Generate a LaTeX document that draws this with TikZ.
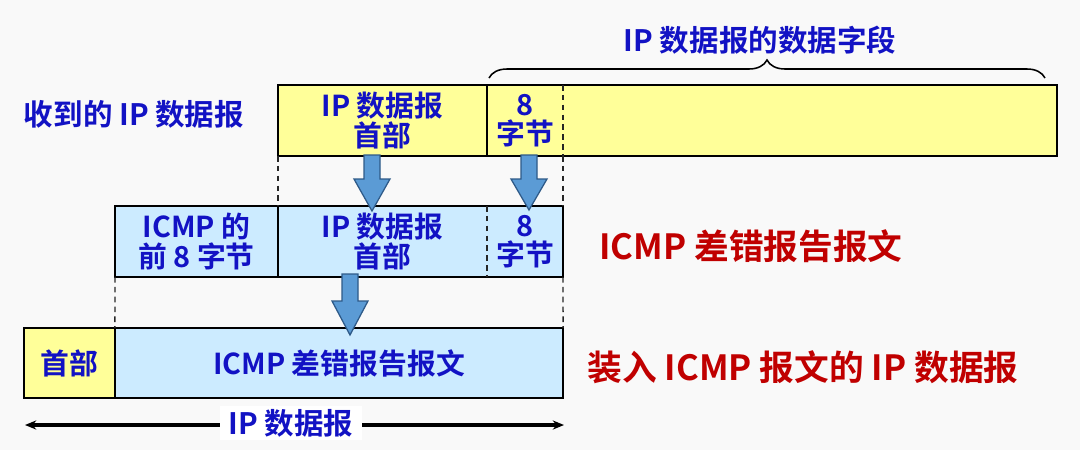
\documentclass[tikz,border=0pt]{standalone}
\usepackage{fontspec}
\setmainfont{Noto Sans CJK SC}[BoldFont={Noto Sans CJK SC Bold}]
\usetikzlibrary{decorations.pathreplacing,arrows.meta}
\definecolor{txtblue}{HTML}{1212C4}
\definecolor{txtred}{HTML}{C00000}
\definecolor{yel}{HTML}{FFFF99}
\definecolor{lblue}{HTML}{CCEBFF}
\definecolor{arrfill}{HTML}{5B9BD5}
\definecolor{arrline}{HTML}{2E5A88}
\definecolor{bg}{HTML}{F9F9F9}
\newcommand{\blockarr}[4]{%
  \filldraw[barrow] (#1-8,#2) -- (#1+8,#2) -- (#1+8,#3) -- (#1+18,#3) -- (#1,#4) -- (#1-18,#3) -- (#1-8,#3) -- cycle;}
\begin{document}
\begin{tikzpicture}[x=0.025cm,y=-0.025cm,
  cell/.style={inner sep=0pt, outer sep=0pt, align=center, text=txtblue,
    font=\fontsize{20.5pt}{21pt}\selectfont\bfseries},
  boxline/.style={draw=black, line width=1.3pt},
  dashline/.style={draw=black!85, line width=1pt, dash pattern=on 4pt off 3pt},
  barrow/.style={fill=arrfill, draw=arrline, line width=0.9pt, line join=miter},
  bluelbl/.style={text=txtblue, font=\fontsize{21pt}{25pt}\selectfont\bfseries, inner sep=1pt},
  redlbl/.style={text=txtred, font=\fontsize{24.7pt}{29pt}\selectfont\bfseries, inner sep=1pt}]
\fill[bg] (0,0) rectangle (1080,450);
\useasboundingbox (0,0) rectangle (1080,450);

% top row
\node[cell, fill=yel, minimum width=5.225cm, minimum height=1.775cm] (h1) at (382.5,120.5) {IP 数据报\\首部};
\node[cell, fill=yel, minimum width=1.9cm, minimum height=1.775cm] (d1) at (525,120.5) {8\\字节};
\node[cell, fill=yel, minimum width=12.35cm, minimum height=1.775cm] (rest) at (810,120.5) {};
\draw[boxline] (h1.north west) rectangle (rest.south east);
\draw[boxline] (h1.north east) -- (h1.south east);
\draw[dashline] (d1.north east) -- (d1.south east);

% middle row
\node[cell, fill=lblue, minimum width=4.075cm, minimum height=1.775cm] (m0) at (196.5,241.5) {ICMP 的\\前 8 字节};
\node[cell, fill=lblue, minimum width=5.225cm, minimum height=1.775cm] (m1) at (382.5,241.5) {IP 数据报\\首部};
\node[cell, fill=lblue, minimum width=1.9cm, minimum height=1.775cm] (m2) at (525,241.5) {8\\字节};
\draw[boxline] (m0.north west) rectangle (m2.south east);
\draw[boxline] (m0.north east) -- (m0.south east);
\draw[dashline] (m1.north east) -- (m1.south east);

% bottom row
\node[cell, fill=yel, minimum width=2.275cm, minimum height=1.75cm] (b0) at (69.5,363) {首部};
\node[cell, fill=lblue, minimum width=11.2cm, minimum height=1.75cm] (b1) at (339,363) {ICMP 差错报告报文};
\draw[boxline] (b0.north west) rectangle (b1.south east);
\draw[boxline] (b0.north east) -- (b0.south east);

% dashed guide lines
\draw[dashline] (h1.south west) -- (m1.north west);
\draw[dashline] (d1.south east) -- (m2.north east);
\draw[dashline] (m0.south west) -- (b1.north west);
\draw[dashline] (m2.south east) -- (b1.north east);

% block arrows
\blockarr{372}{155}{179}{211}
\blockarr{529}{155}{179}{210}
\blockarr{350}{274}{301}{335}

% brace and its label
\coordinate (brL) at (489,78);
\coordinate (brR) at (1045,78);
\draw[line width=1.1pt, decorate, decoration={brace, amplitude=0.45cm}] (brL) -- (brR);
\node[bluelbl] (brlbl) at (760,40) {IP 数据报的数据字段};

% labels
\node[bluelbl] (recv) at (134,114) {收到的 IP 数据报};
\node[redlbl] (icmpmsg) at (751,246) {ICMP 差错报告报文};
\node[redlbl] (ipdg) at (803,367) {装入 ICMP 报文的 IP 数据报};

% length arrow
\coordinate (lenL) at (25,425);
\coordinate (lenR) at (564,425);
\draw[line width=2.2pt, {Stealth[length=8pt,width=6.5pt]}-{Stealth[length=8pt,width=6.5pt]}] (lenL) -- (lenR);
\node[bluelbl, fill=white, inner xsep=6pt, inner ysep=2pt] (lenlbl) at (291,423) {IP 数据报};
\end{tikzpicture}
\end{document}
